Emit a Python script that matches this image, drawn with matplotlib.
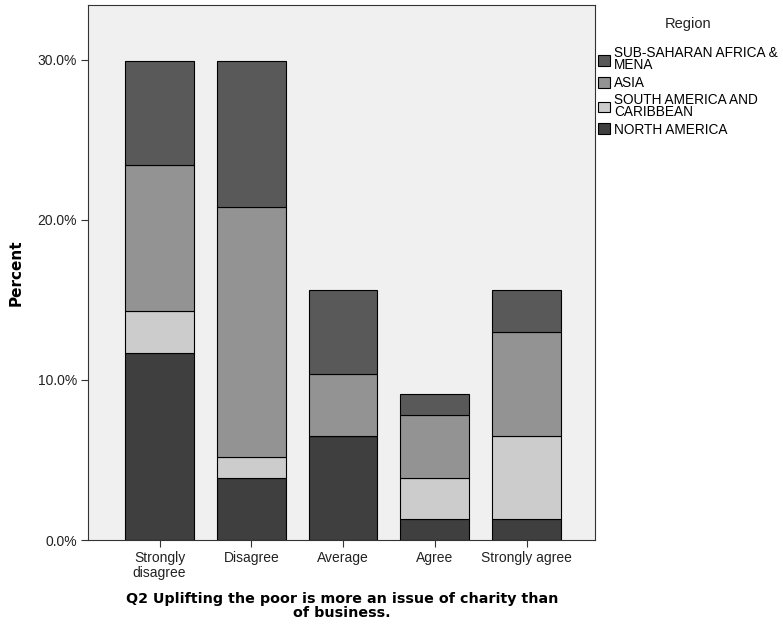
import numpy as np
import matplotlib
matplotlib.use("Agg")
import matplotlib.pyplot as plt
from matplotlib.patches import Patch

plt.rcParams['font.family'] = ['Liberation Sans', 'DejaVu Sans']

kategorije = ['Strongly\ndisagree', 'Disagree', 'Average', 'Agree', 'Strongly agree']
regioni = ['NORTH AMERICA', 'SOUTH AMERICA AND\nCARIBBEAN', 'ASIA', 'SUB-SAHARAN AFRICA &\nMENA']
boje = ['#3f3f3f', '#cccccc', '#939393', '#595959']

# procenti (n = 77)
severna_amerika = [11.7, 3.9, 6.5, 1.3, 1.3]
juzna_amerika = [2.6, 1.3, 0.0, 2.6, 5.2]
azija = [9.1, 15.6, 3.9, 3.9, 6.5]
afrika_mena = [6.5, 9.1, 5.2, 1.3, 2.6]

serije = [severna_amerika, juzna_amerika, azija, afrika_mena]

f = plt.figure(figsize=(7.83, 6.34), dpi=100)
ax = f.add_axes([0.1124, 0.148, 0.648, 0.844])
ax.set_facecolor('#f0f0f0')

x = np.arange(len(kategorije))
dno = np.zeros(len(kategorije))
for vrednosti, boja in zip(serije, boje):
    ax.bar(x, vrednosti, width=0.75, bottom=dno, color=boja, edgecolor='black', linewidth=0.8)
    dno = dno + np.array(vrednosti)

ax.set_xlim(-0.78, 4.75)
ax.set_ylim(0, 33.4)
ax.set_yticks([0, 10, 20, 30])
ax.set_yticklabels(['0.0%', '10.0%', '20.0%', '30.0%'], fontsize=10, color='#222222')
ax.set_xticks(x)
ax.set_xticklabels(kategorije, fontsize=10, linespacing=1.05, color='#222222')
ax.tick_params(direction='out', length=5, width=0.8, color='#333333', pad=3)
for s in ax.spines.values():
    s.set_color('#333333')
    s.set_linewidth(0.8)

ax.set_ylabel('Percent', fontsize=11, fontweight='bold', family='DejaVu Sans', labelpad=10)
ax.set_xlabel('Q2 Uplifting the poor is more an issue of charity than\nof business.',
              fontsize=10.3, fontweight='bold', family='DejaVu Sans', linespacing=1.05, labelpad=8.5)

ruke = [Patch(facecolor=b, edgecolor='black', linewidth=0.8) for b in boje][::-1]
leg = f.legend(ruke, regioni[::-1], title='Region', loc='upper left',
               bbox_to_anchor=(0.764, 0.973), frameon=False, fontsize=9.8,
               title_fontsize=10.5, handlelength=0.86, handleheight=0.86,
               handletextpad=0.3, labelspacing=0.25, borderaxespad=0, borderpad=0)
for t in leg.get_texts():
    t.set_linespacing(0.82)
leg.get_title().set_color('#222222')
leg._legend_box.sep = 11

plt.savefig('out.png', dpi=100)
